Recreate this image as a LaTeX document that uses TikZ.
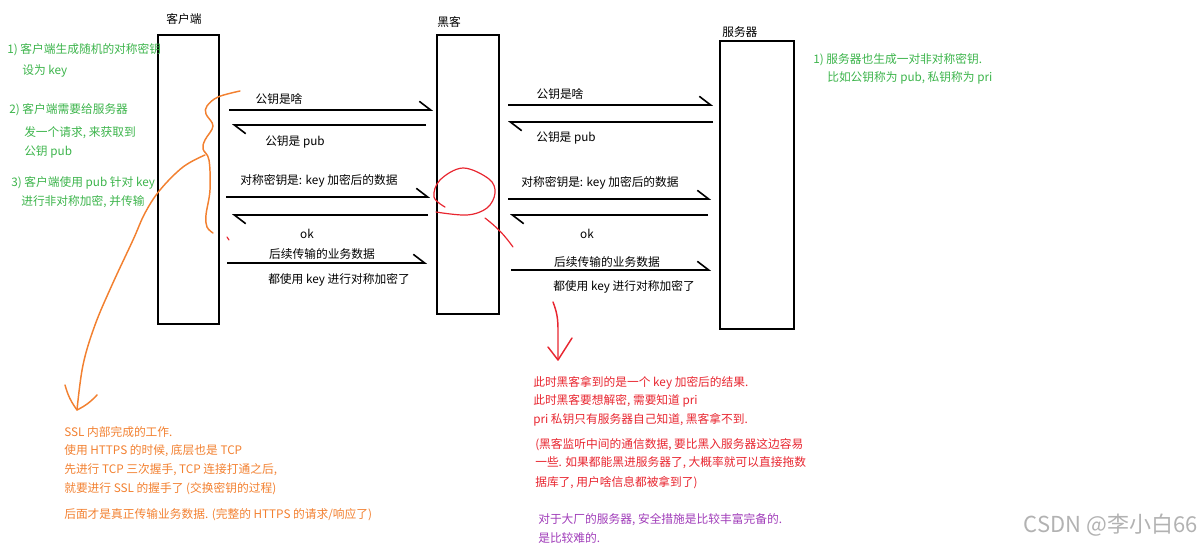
\documentclass[tikz,border=0pt]{standalone}
\usepackage{fontspec}
\setmainfont{Noto Sans CJK SC}
\usetikzlibrary{arrows.meta,fit}
\definecolor{notegreen}{RGB}{60,180,75}
\definecolor{noteorange}{RGB}{242,128,48}
\definecolor{notered}{RGB}{232,38,48}
\definecolor{notepurple}{RGB}{160,60,185}

\begin{document}
\begin{tikzpicture}[x=0.75pt, y=-0.75pt,
    every node/.style={font=\fontsize{8.8}{10}\selectfont, inner sep=0pt},
    lifeline/.style={draw, line width=1.3pt, inner sep=0pt},
    msg/.style={line width=1.2pt, -{Straight Barb[harpoon, length=8.5pt, width=13pt, line width=1.2pt]}},
    note/.style={anchor=west},
    ink/.style={line width=1.1pt, line cap=round, line join=round}]

    \useasboundingbox (0,0) rectangle (1203,545);

    % lifelines
    \node[lifeline, fit={(158,35) (219,324)}] (client) {};
    \node[lifeline, fit={(437,35) (499,314)}] (hacker) {};
    \node[lifeline, fit={(720,41) (794,329)}] (server) {};
    \node (clientlbl) at (184,19) {客户端};
    \node[anchor=west] (hackerlbl) at (437,22) {黑客};
    \node[anchor=west] (serverlbl) at (722,32) {服务器};

    % client <-> hacker
    \coordinate (a1s) at (229,110);  \coordinate (a1e) at (433,110);
    \coordinate (a2s) at (426,125);  \coordinate (a2e) at (232,125);
    \coordinate (a3s) at (226,197);  \coordinate (a3e) at (430,197);
    \coordinate (a4s) at (428,215);  \coordinate (a4e) at (232,215);
    \coordinate (a5s) at (227,263);  \coordinate (a5e) at (427,263);
    \draw[msg] (a1s) -- (a1e);
    \draw[msg] (a2s) -- (a2e);
    \draw[msg] (a3s) -- (a3e);
    \draw[msg] (a4s) -- (a4e);
    \draw[msg] (a5s) -- (a5e);
    \node (a1lbl) at (279,99) {公钥是啥};
    \node (a2lbl) at (295,142) {公钥是 pub};
    \node (a3lbl) at (319,181) {对称密钥是: key 加密后的数据};
    \node (a4lbl) at (307,234) {ok};
    \node (a5lbl) at (322,254) {后续传输的业务数据};
    \node (a6lbl) at (339,280) {都使用 key 进行对称加密了};

    % hacker <-> server
    \coordinate (b1s) at (508,105);  \coordinate (b1e) at (713,105);
    \coordinate (b2s) at (713,122);  \coordinate (b2e) at (508,122);
    \coordinate (b3s) at (508,199);  \coordinate (b3e) at (711,199);
    \coordinate (b4s) at (708,215);  \coordinate (b4e) at (510,215);
    \coordinate (b5s) at (511,270);  \coordinate (b5e) at (711,270);
    \draw[msg] (b1s) -- (b1e);
    \draw[msg] (b2s) -- (b2e);
    \draw[msg] (b3s) -- (b3e);
    \draw[msg] (b4s) -- (b4e);
    \draw[msg] (b5s) -- (b5e);
    \node (b1lbl) at (560,94) {公钥是啥};
    \node (b2lbl) at (566,138) {公钥是 pub};
    \node (b3lbl) at (600,183) {对称密钥是: key 加密后的数据};
    \node (b4lbl) at (587,234) {ok};
    \node (b5lbl) at (607,262) {后续传输的业务数据};
    \node (b6lbl) at (624,287) {都使用 key 进行对称加密了};

    % green notes
    \node[note, text=notegreen] (g1) at (7,50) {1) 客户端生成随机的对称密钥};
    \node[note, text=notegreen] (g1b) at (22,71) {设为 key};
    \node[note, text=notegreen] (g2) at (9,110) {2) 客户端需要给服务器};
    \node[note, text=notegreen] (g2b) at (24,133) {发一个请求, 来获取到};
    \node[note, text=notegreen] (g2c) at (24,152) {公钥 pub};
    \node[note, text=notegreen] (g3) at (11,183) {3) 客户端使用 pub 针对 key};
    \node[note, text=notegreen] (g3b) at (21,202) {进行非对称加密, 并传输};
    \node[note, text=notegreen] (s1) at (813,60) {1) 服务器也生成一对非对称密钥.};
    \node[note, text=notegreen] (s1b) at (827,78) {比如公钥称为 pub, 私钥称为 pri};

    % orange notes
    \node[note, text=noteorange] (o1) at (64,432) {SSL 内部完成的工作.};
    \node[note, text=noteorange] (o2) at (64,451) {使用 HTTPS 的时候, 底层也是 TCP};
    \node[note, text=noteorange] (o3) at (64,470) {先进行 TCP 三次握手, TCP 连接打通之后,};
    \node[note, text=noteorange] (o4) at (64,489) {就要进行 SSL 的握手了 (交换密钥的过程)};
    \node[note, text=noteorange] (o5) at (64,515) {后面才是真正传输业务数据. (完整的 HTTPS 的请求/响应了)};

    % red notes
    \node[note, text=notered] (r1) at (533,383) {此时黑客拿到的是一个 key 加密后的结果.};
    \node[note, text=notered] (r2) at (533,401) {此时黑客要想解密, 需要知道 pri};
    \node[note, text=notered] (r3) at (533,420) {pri 私钥只有服务器自己知道, 黑客拿不到.};
    \node[note, text=notered] (r4) at (535,445) {(黑客监听中间的通信数据, 要比黑入服务器这边容易};
    \node[note, text=notered] (r5) at (535,463) {一些. 如果都能黑进服务器了, 大概率就可以直接拖数};
    \node[note, text=notered] (r6) at (535,483) {据库了, 用户啥信息都被拿到了)};

    % purple notes
    \node[note, text=notepurple] (p1) at (538,520) {对于大厂的服务器, 安全措施是比较丰富完备的.};
    \node[note, text=notepurple] (p2) at (538,538) {是比较难的.};

    % freehand marks
    \draw[ink, noteorange] plot[smooth, tension=0.6] coordinates {(240,91) (218,97) (207,106) (206,114) (213,126) (205,140) (203,149) (209,160) (210,190) (206,215) (207,227) (213,233)};
    \coordinate (otip) at (77,410);
    \draw[ink, noteorange] plot[smooth, tension=0.6] coordinates {(205,155) (183,167) (160,190) (145,213) (133,240) (112,285) (95,325) (83,365) (otip)};
    \draw[ink, noteorange] (65,385) to[bend right=10] (otip) to[bend right=10] (97,395);

    \draw[ink, notered, line width=0.9pt] plot[smooth, tension=0.6] coordinates {(445,207) (434,197) (440,180) (463,168) (489,179) (495,193) (487,208) (467,215) (436,212)};
    \draw[ink, notered, line width=0.9pt] (485,218) to[bend left=8] (513,247);
    \draw[ink, notered, line width=0.9pt] (227,237) -- (229,240);
    \coordinate (rtip) at (558,360);
    \draw[ink, notered] (553,302) to[bend left=10] (558,328) -- (rtip);
    \draw[ink, notered] (548,347) -- (rtip) -- (572,338);

    % watermark
    \node[anchor=east, text=black!30, font=\fontsize{16.5}{18}\selectfont] (mark) at (1198,525) {CSDN @李小白66};
\end{tikzpicture}
\end{document}
